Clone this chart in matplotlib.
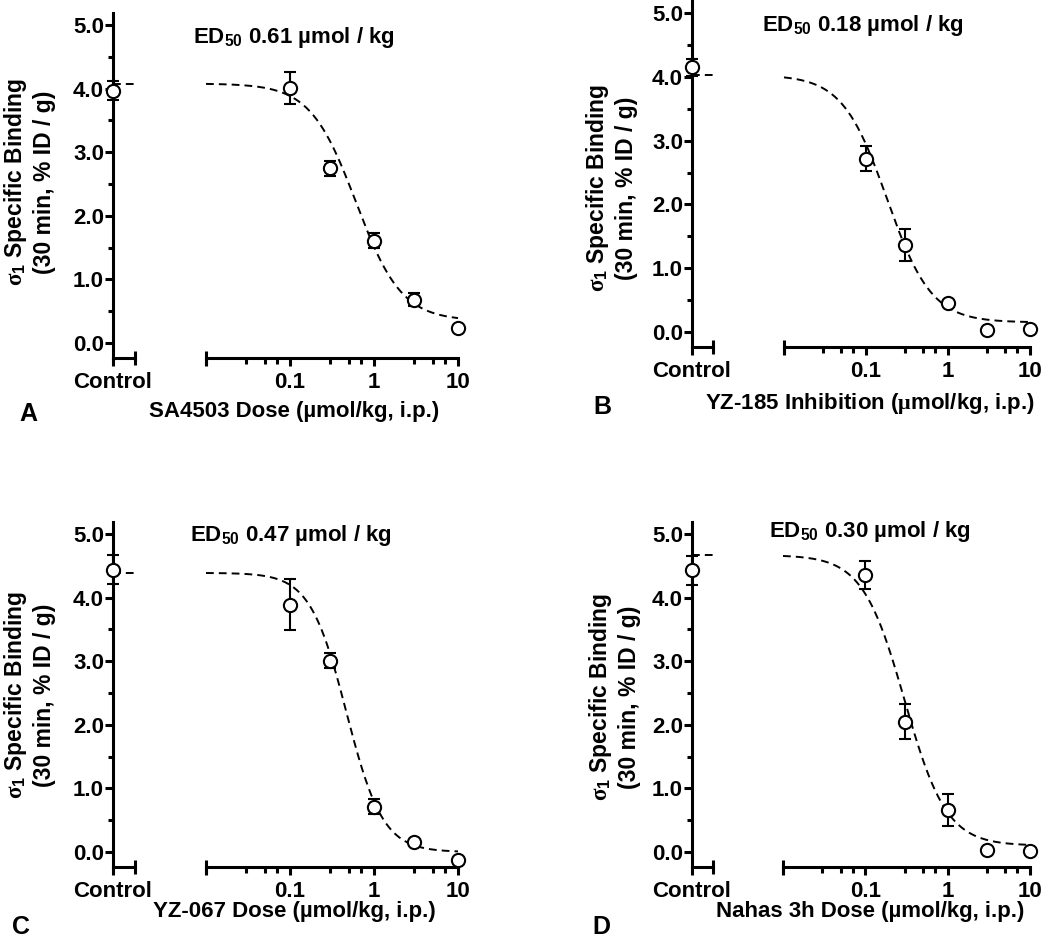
import numpy as np
import matplotlib
matplotlib.use("Agg")
import matplotlib.pyplot as plt
from matplotlib.ticker import FixedLocator, LogLocator, NullFormatter, FormatStrFormatter
import matplotlib.transforms as mtransforms

plt.rcParams['font.family'] = ['Liberation Sans', 'DejaVu Sans']
plt.rcParams['font.weight'] = 'bold'
plt.rcParams['mathtext.fontset'] = 'custom'
plt.rcParams['mathtext.rm'] = 'Liberation Serif'
plt.rcParams['mathtext.it'] = 'Liberation Serif:italic'
plt.rcParams['mathtext.bf'] = 'Liberation Sans:bold'

W, H = 1050, 942
FS = 16

# doses (umol/kg, i.p.)
doses = [0.1, 0.3, 1, 3, 10]

# panel A: SA4503
ctrl_A = 3.97
ctrl_err_A = 0.15
mean_A = [4.01, 2.75, 1.61, 0.68, 0.23]
err_A = [0.25, 0.12, 0.12, 0.10, 0.03]
fit_A = (4.08, 0.35, 0.61, 1.6)  # top, bottom, ED50, hill

# panel B: YZ-185
ctrl_B = 4.15
ctrl_err_B = 0.13
mean_B = [2.72, 1.37, 0.45, 0.03, 0.04]
err_B = [0.19, 0.25, 0.03, 0.02, 0.02]
fit_B = (4.03, 0.15, 0.18, 1.6)

# panel C: YZ-067
ctrl_C = 4.44
ctrl_err_C = 0.23
mean_C = [3.89, 3.01, 0.71, 0.16, -0.13]
err_C = [0.40, 0.12, 0.12, 0.03, 0.03]
fit_C = (4.39, 0.0, 0.47, 2.0)

# panel D: Nahas 3h
ctrl_D = 4.43
ctrl_err_D = 0.23
mean_D = [4.36, 2.05, 0.66, 0.03, 0.02]
err_D = [0.22, 0.27, 0.25, 0.02, 0.02]
fit_D = (4.67, 0.10, 0.30, 1.7)

ed50_text = ['0.61', '0.18', '0.47', '0.30']
xlabels = ['SA4503 Dose (µmol/kg, i.p.)',
           r'YZ-185 Inhibition ($\mathrm{μ}$mol/kg, i.p.)',
           'YZ-067 Dose (µmol/kg, i.p.)',
           'Nahas 3h Dose (µmol/kg, i.p.)']
letters = ['A', 'B', 'C', 'D']
ylab = r'$\mathrm{σ}_{\mathbf{1}}$ Specific Binding' + '\n(30 min, % ID / g)'

# pixel layout: ctrl left, ctrl right, log left, log right, top, bottom
layout = [(113, 135, 206, 458, 13, 358),
          (692, 713, 784, 1030, 1, 347),
          (113, 135, 206, 458, 522, 867),
          (692, 713, 783, 1030, 522, 867)]
ed_pos = [(294, 38), (863, 25), (291, 535), (870, 532)]
xl_pos = [(294, 412), (870, 403), (294, 912), (870, 911)]
let_pos = [(28, 414), (602, 407), (21, 927), (601, 927)]
yl_pos = [(29, 182), (611, 188), (29, 695), (614, 697)]

panels = [(ctrl_A, ctrl_err_A, mean_A, err_A, fit_A),
          (ctrl_B, ctrl_err_B, mean_B, err_B, fit_B),
          (ctrl_C, ctrl_err_C, mean_C, err_C, fit_C),
          (ctrl_D, ctrl_err_D, mean_D, err_D, fit_D)]

fig = plt.figure(figsize=(W / 100, H / 100), dpi=100)


def rect(l, r, t, b):
    return [l / W, 1 - b / H, (r - l) / W, (b - t) / H]


def fx(x):
    return x / W


def fy(y):
    return 1 - y / H


LW = 2.2
ylim = (-0.236, 5.19)
mk = dict(fmt='o', ms=9.5, mfc='white', mec='black', mew=1.5, ecolor='black',
          elinewidth=1.5, capsize=4.5, capthick=1.5, clip_on=False, zorder=4)
dash = dict(color='black', lw=1.4, ls=(0, (4, 2.6)), clip_on=False, zorder=3)

for i, (ctrl, ctrl_err, mean, err, fit) in enumerate(panels):
    cl, cr, ll, lr, t, b = layout[i]
    top, bot, ed50, hill = fit

    # control axis
    axc = fig.add_axes(rect(cl, cr, t, b))
    axc.set_xlim(0, 1)
    axc.set_ylim(*ylim)
    for s in ['top', 'right']:
        axc.spines[s].set_visible(False)
    for s in ['left', 'bottom']:
        axc.spines[s].set_linewidth(LW)
    axc.set_xticks([0])
    axc.set_xticklabels(['Control'], fontsize=FS, fontweight='bold')
    axc.tick_params(axis='x', direction='out', length=6, width=LW, pad=4)
    axc.yaxis.set_major_locator(FixedLocator([0, 1, 2, 3, 4, 5]))
    axc.yaxis.set_minor_locator(FixedLocator([0.5, 1.5, 2.5, 3.5, 4.5]))
    axc.yaxis.set_major_formatter(FormatStrFormatter('%.1f'))
    axc.tick_params(axis='y', which='major', direction='out', length=5.5, width=LW, pad=1,
                    labelsize=FS)
    axc.tick_params(axis='y', which='minor', direction='out', length=3.5, width=LW)
    for lab in axc.get_yticklabels():
        lab.set_fontweight('bold')
    axc.plot([0, 1], [top, top], **dash)
    axc.errorbar([0], [ctrl], yerr=[ctrl_err], **mk)
    # end cap on control axis
    tr = mtransforms.blended_transform_factory(axc.transData, axc.transAxes)
    axc.plot([1], [0], marker='|', ms=10, mew=LW, color='black', transform=tr,
             clip_on=False)

    # dose axis (log)
    axl = fig.add_axes(rect(ll, lr, t, b))
    axl.set_xscale('log')
    axl.set_xlim(0.01, 10)
    axl.set_ylim(*ylim)
    for s in ['top', 'right', 'left']:
        axl.spines[s].set_visible(False)
    axl.spines['bottom'].set_linewidth(LW)
    axl.set_yticks([])
    axl.xaxis.set_major_locator(FixedLocator([0.01, 0.1, 1, 10]))
    axl.set_xticklabels(['', '0.1', '1', '10'], fontsize=FS, fontweight='bold')
    axl.xaxis.set_minor_locator(LogLocator(base=10, subs=[3, 5, 7]))
    axl.xaxis.set_minor_formatter(NullFormatter())
    axl.tick_params(axis='x', which='major', direction='out', length=6, width=LW, pad=4)
    axl.tick_params(axis='x', which='minor', direction='out', length=4, width=LW)
    tr = mtransforms.blended_transform_factory(axl.transData, axl.transAxes)
    axl.plot([0.01], [0], marker='|', ms=10, mew=LW, color='black', transform=tr,
             clip_on=False)

    xs = np.logspace(-2, 1, 300)
    curve = bot + (top - bot) / (1 + 10 ** ((np.log10(xs) - np.log10(ed50)) * hill))
    axl.plot(xs, curve, **dash)
    axl.errorbar(doses, mean, yerr=err, **mk)

    # texts
    fig.text(fx(ed_pos[i][0]), fy(ed_pos[i][1]),
             r'ED$_{\mathbf{50}}$ ' + ed50_text[i] + ' µmol / kg',
             ha='center', va='center', fontsize=FS, fontweight='bold')
    fig.text(fx(xl_pos[i][0]), fy(xl_pos[i][1]), xlabels[i],
             ha='center', va='center', fontsize=FS, fontweight='bold')
    fig.text(fx(let_pos[i][0]), fy(let_pos[i][1]), letters[i],
             ha='center', va='center', fontsize=18, fontweight='bold')
    fig.text(fx(yl_pos[i][0]), fy(yl_pos[i][1]), ylab, rotation=90,
             ha='center', va='center', fontsize=16.5, fontweight='bold',
             multialignment='center', linespacing=1.25)

fig.savefig('out.png', dpi=100)
